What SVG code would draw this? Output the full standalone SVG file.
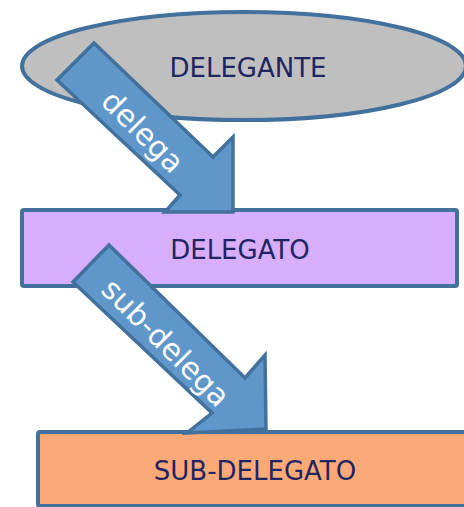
<svg xmlns="http://www.w3.org/2000/svg" width="464" height="507" viewBox="0 0 464 507">
<style>
.node{stroke:#41719c;stroke-width:4}
.lbl{font-family:"DejaVu Sans",Verdana,sans-serif;font-size:26px;fill:#1f2462;text-anchor:middle}
.arrow{fill:#6097ca;stroke:#41719c;stroke-width:3.5;stroke-linejoin:miter}
.alb{font-family:"DejaVu Sans",Verdana,sans-serif;font-size:30px;fill:#ffffff;text-anchor:middle}
</style>
<rect width="464" height="507" fill="#ffffff"/>
<g id="delegante">
<ellipse class="node" cx="244" cy="66" rx="222" ry="54" fill="#bfbfbf"/>
<text class="lbl" x="248" y="77">DELEGANTE</text>
</g>
<g id="delegato">
<rect class="node" x="22" y="210" width="435" height="76" rx="2" fill="#d6aefc"/>
<text class="lbl" x="240" y="259">DELEGATO</text>
</g>
<g id="sub-delegato">
<rect class="node" x="38" y="432" width="440" height="74" rx="2" fill="#fca978"/>
<text class="lbl" x="255" y="480">SUB-DELEGATO</text>
</g>
<g id="connectors">
<polygon class="arrow" points="94,43 213,157 233,137 233,212 165,212 180,195 57,80"/>
<text class="alb" transform="translate(142.5,132) rotate(45)" y="10">delega</text>
<polygon class="arrow" points="109,245 245,378 265,355 266,429 187,433 212,413 73,282"/>
<text class="alb" transform="translate(165.5,343) rotate(45)" y="10">sub-delega</text>
</g>
</svg>
